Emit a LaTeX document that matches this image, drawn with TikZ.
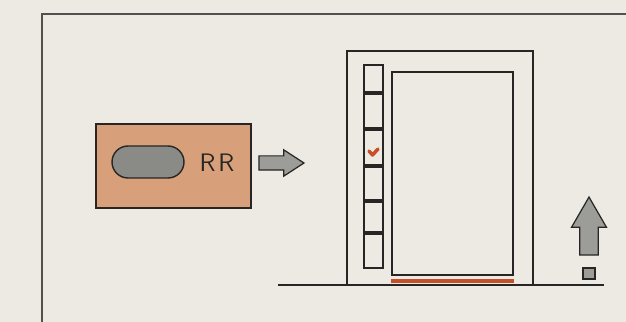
\documentclass[tikz,border=0pt]{standalone}
\usepackage{xcolor}
\usepackage{tikz}
\usetikzlibrary{shapes.arrows, shapes.misc, positioning}
\definecolor{mypaper}{RGB}{236,234,226}
\definecolor{myink}{RGB}{40,38,36}
\definecolor{mytan}{RGB}{216,160,122}
\definecolor{mygray}{RGB}{138,138,134}
\definecolor{myred}{RGB}{200,80,40}
\tikzset{
  panel/.style={rectangle, draw=myink, line width=0.8pt, inner sep=0pt},
  keycap/.style={rounded rectangle, draw=myink, fill=mygray, line width=0.8pt,
    minimum width=1.44cm, minimum height=0.64cm, inner sep=0pt},
  blockarrow/.style={single arrow, draw=myink, fill=mygray!85, line width=0.7pt,
    inner sep=0.13cm, single arrow tip angle=66, single arrow head extend=0.12cm},
  frame/.style={myink!80, line width=0.6pt},
  ground/.style={myink, line width=1pt},
  tick/.style={myink, line width=2.6pt}
}
\begin{document}
\begin{tikzpicture}
  \useasboundingbox[fill=mypaper] (0,0) rectangle (12.52,6.44);
  % page frame
  \draw[frame] (12.52,6.16) -- (0.84,6.16) -- (0.84,0);

  % remote key
  \node[panel, fill=mytan, minimum width=3.1cm, minimum height=1.68cm] (remote) at (3.47,3.12) {};
  \node[keycap] (key) at (2.96,3.2) {};
  \node[font=\sffamily\Large, text=myink] (rr) at (4.34,3.18) {R\kern1.5pt R};
  \node[blockarrow, minimum height=0.9cm, minimum width=0.52cm] (go) at (5.52,3.18) {};

  % screen unit
  \draw[ground] (5.56,0.74) -- (12.08,0.74);
  \node[panel, minimum width=3.72cm, minimum height=4.68cm] (unit) at (8.8,3.08) {};
  \node[panel, minimum width=0.38cm, minimum height=4.06cm] (strip) at (7.47,3.11) {};
  \foreach \y in {4.58,3.86,3.12,2.42,1.78}
    \draw[tick] (strip.west |- 0,\y) -- (strip.east |- 0,\y);
  \draw[myred, line width=2pt, line cap=round, line join=round]
    (7.38,3.42) -- (7.45,3.34) -- (7.56,3.46);
  \node[panel, minimum width=2.42cm, minimum height=4.06cm] (screen) at (9.05,2.97) {};
  \draw[myred, line width=1.8pt] (screen.south west |- 0,0.82) -- (screen.south east |- 0,0.82);

  % raise arrow
  \node[blockarrow, rotate=90, minimum height=1.16cm, minimum width=0.7cm,
    inner sep=0.12cm, single arrow tip angle=60] (up) at (11.78,1.76) {};
  \node[panel, fill=mygray!85, line width=0.7pt, minimum width=0.24cm, minimum height=0.22cm]
    (dot) at (11.78,0.97) {};
\end{tikzpicture}
\end{document}
